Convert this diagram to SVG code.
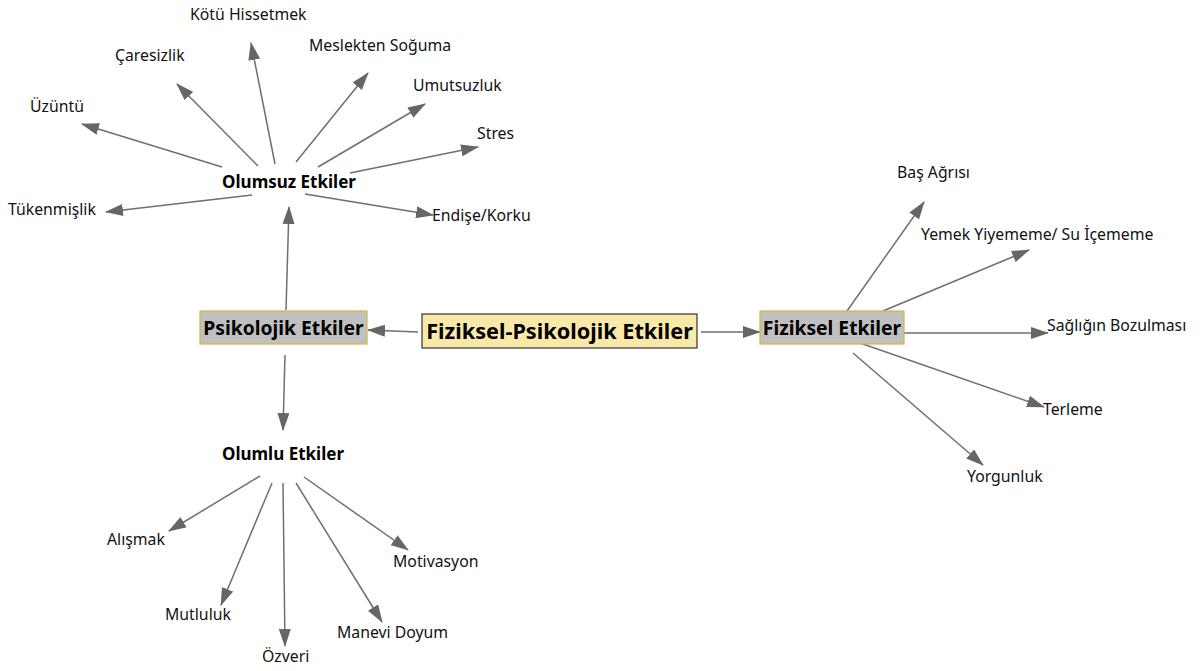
<svg xmlns="http://www.w3.org/2000/svg" width="1200" height="671" viewBox="0 0 1200 671">
<defs>
<marker id="ah" markerUnits="userSpaceOnUse" markerWidth="18" markerHeight="12" refX="17" refY="6" orient="auto">
<path d="M0,0 L18,6 L0,12 Z" fill="#666"/>
</marker>
<style>
.e{stroke:#6f6f6f;stroke-width:1.5;fill:none;marker-end:url(#ah)}
.t{font-family:"Noto Sans","Open Sans",sans-serif;font-size:15.8px;fill:#111}
.b{font-family:"Noto Sans","Open Sans",sans-serif;font-size:17px;font-weight:bold;fill:#000}
.hb{font-family:"Noto Sans","Open Sans",sans-serif;font-size:19.3px;font-weight:bold;fill:#000}
.cb{font-family:"Noto Sans","Open Sans",sans-serif;font-size:21.7px;font-weight:bold;fill:#000}
</style>
</defs>
<rect width="1200" height="671" fill="#fff"/>
<g id="connectors">
<line class="e" x1="418" y1="332" x2="368" y2="330"/>
<line class="e" x1="701" y1="332" x2="760" y2="332"/>
<line class="e" x1="286" y1="310" x2="289" y2="207"/>
<line class="e" x1="285" y1="355" x2="283" y2="430"/>
<line class="e" x1="252" y1="195" x2="106" y2="212"/>
<line class="e" x1="222" y1="167" x2="82" y2="124"/>
<line class="e" x1="258" y1="166" x2="177" y2="84"/>
<line class="e" x1="275" y1="164" x2="251" y2="43"/>
<line class="e" x1="296" y1="162" x2="368" y2="73"/>
<line class="e" x1="318" y1="167" x2="425" y2="104"/>
<line class="e" x1="350" y1="173" x2="478" y2="147"/>
<line class="e" x1="305" y1="194" x2="433" y2="215"/>
<line class="e" x1="847" y1="311" x2="924" y2="202"/>
<line class="e" x1="883" y1="311" x2="1029" y2="250"/>
<line class="e" x1="904" y1="333" x2="1048" y2="333"/>
<line class="e" x1="860" y1="343" x2="1044" y2="407"/>
<line class="e" x1="853" y1="353" x2="983" y2="465"/>
<line class="e" x1="260" y1="476" x2="169" y2="531"/>
<line class="e" x1="272" y1="483" x2="221" y2="605"/>
<line class="e" x1="283" y1="483" x2="285" y2="646"/>
<line class="e" x1="296" y1="483" x2="382" y2="622"/>
<line class="e" x1="304" y1="477" x2="408" y2="550"/>
</g>
<g id="n-center">
<rect x="422" y="314" width="275" height="34" fill="#f9e9a9" stroke="#333" stroke-width="1.2"/>
<text class="cb" x="559.5" y="339" text-anchor="middle">Fiziksel-Psikolojik Etkiler</text>
</g>
<g id="n-psik">
<rect x="200" y="311" width="167" height="33" fill="#c0c0c0" stroke="#d4b440" stroke-width="1.2"/>
<text class="hb" x="283.5" y="334.5" text-anchor="middle">Psikolojik Etkiler</text>
</g>
<g id="n-fiz">
<rect x="760" y="311" width="144" height="33" fill="#c0c0c0" stroke="#d4b440" stroke-width="1.2"/>
<text class="hb" x="832" y="334.5" text-anchor="middle">Fiziksel Etkiler</text>
</g>
<g id="n-olumsuz"><text class="b" x="289" y="188" text-anchor="middle">Olumsuz Etkiler</text></g>
<g id="n-olumlu"><text class="b" x="283" y="460" text-anchor="middle">Olumlu Etkiler</text></g>
<g id="n-tuken"><text class="t" x="8" y="215">Tükenmişlik</text></g>
<g id="n-uzuntu"><text class="t" x="30" y="112">Üzüntü</text></g>
<g id="n-caresiz"><text class="t" x="115" y="61">Çaresizlik</text></g>
<g id="n-kotu"><text class="t" x="190" y="20">Kötü Hissetmek</text></g>
<g id="n-meslek"><text class="t" x="309" y="51">Meslekten Soğuma</text></g>
<g id="n-umut"><text class="t" x="413" y="91">Umutsuzluk</text></g>
<g id="n-stres"><text class="t" x="477" y="139">Stres</text></g>
<g id="n-endise"><text class="t" x="432" y="221">Endişe/Korku</text></g>
<g id="n-bas"><text class="t" x="897" y="178">Baş Ağrısı</text></g>
<g id="n-yemek"><text class="t" x="921" y="240">Yemek Yiyememe/ Su İçememe</text></g>
<g id="n-saglik"><text class="t" x="1047" y="331">Sağlığın Bozulması</text></g>
<g id="n-terleme"><text class="t" x="1043" y="415">Terleme</text></g>
<g id="n-yorgun"><text class="t" x="967" y="482">Yorgunluk</text></g>
<g id="n-alisma"><text class="t" x="107" y="545">Alışmak</text></g>
<g id="n-mutlu"><text class="t" x="165" y="620">Mutluluk</text></g>
<g id="n-ozveri"><text class="t" x="262" y="662">Özveri</text></g>
<g id="n-manevi"><text class="t" x="337" y="638">Manevi Doyum</text></g>
<g id="n-motiv"><text class="t" x="393" y="567">Motivasyon</text></g>
</svg>
